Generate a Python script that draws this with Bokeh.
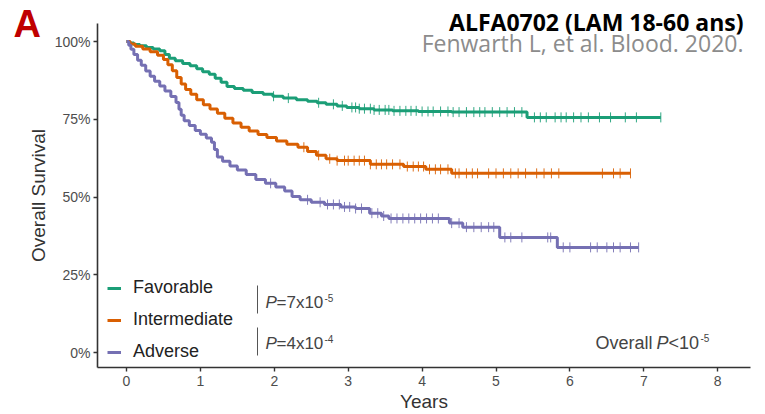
import numpy as np
from bokeh.plotting import figure
from bokeh.models import (Range1d, FixedTicker, Label, Legend, LegendItem, BoxAnnotation)
from bokeh.embed import file_html
from bokeh.resources import INLINE

# ---------------- data ----------------
groups = ["Favorable", "Intermediate", "Adverse"]
colors = ["#1B9E77", "#D95F02", "#7570B3"]

fav_t = [0, 0.04, 0.10, 0.18, 0.27, 0.36, 0.45, 0.52, 0.58, 0.66, 0.76, 0.86, 0.95, 1.03,
         1.12, 1.20, 1.28, 1.36, 1.46, 1.58, 1.70, 1.85, 1.98, 2.12, 2.30, 2.45, 2.58,
         2.70, 2.85, 2.98, 3.15, 3.35, 3.60, 3.95, 4.40, 5.42, 7.23]
fav_s = [100, 99.5, 99.0, 98.6, 98.1, 97.6, 97.0, 95.8, 94.6, 93.8, 92.9, 92.2, 91.2, 90.3,
         89.5, 88.2, 86.9, 85.5, 84.9, 84.3, 83.6, 83.0, 82.4, 81.8, 81.3, 80.8, 80.3,
         79.8, 79.3, 78.8, 78.4, 78.0, 77.7, 77.5, 77.3, 75.6, 75.6]
fav_cens = [1.99, 2.19, 2.6, 2.8, 2.92, 3.05, 3.1, 3.15, 3.22, 3.3, 3.35, 3.42, 3.5, 3.55,
            3.62, 3.7, 3.78, 3.85, 3.92, 4.0, 4.08, 4.15, 4.25, 4.35, 4.42, 4.5, 4.6, 4.7,
            4.78, 4.85, 4.95, 5.05, 5.15, 5.25, 5.35, 5.52, 5.6, 5.68, 5.8, 5.88, 5.95,
            6.05, 6.15, 6.25, 6.4, 6.55, 6.75, 6.9, 7.23]

int_t = [0, 0.05, 0.12, 0.22, 0.32, 0.42, 0.50, 0.56, 0.62, 0.68, 0.74, 0.80, 0.87, 0.95,
         1.04, 1.13, 1.23, 1.33, 1.44, 1.55, 1.66, 1.78, 1.90, 2.03, 2.17, 2.32, 2.45,
         2.57, 2.70, 2.85, 3.30, 3.75, 4.05, 4.40, 6.82]
int_s = [100, 99.2, 98.5, 97.6, 96.7, 95.6, 94.2, 92.5, 90.6, 88.4, 86.3, 84.6, 83.0, 81.3,
         79.7, 78.3, 76.9, 75.3, 73.8, 72.4, 71.2, 70.1, 69.1, 68.0, 67.0, 66.0, 64.6,
         63.4, 62.3, 61.7, 60.5, 59.8, 58.9, 57.6, 57.6]
int_cens = [2.4, 2.6, 2.75, 2.85, 2.95, 3.0, 3.08, 3.15, 3.22, 3.3, 3.38, 3.45, 3.52, 3.6,
            3.7, 3.8, 3.88, 3.95, 4.02, 4.1, 4.18, 4.25, 4.35, 4.45, 4.5, 4.6, 4.68, 4.75,
            4.9, 5.0, 5.1, 5.2, 5.3, 5.4, 5.55, 5.65, 5.75, 5.85, 6.44, 6.59, 6.68, 6.82]

adv_t = [0, 0.03, 0.06, 0.10, 0.15, 0.20, 0.26, 0.32, 0.38, 0.45, 0.52, 0.60, 0.67, 0.71,
         0.74, 0.78, 0.85, 0.93, 1.00, 1.08, 1.15, 1.19, 1.23, 1.30, 1.40, 1.50, 1.62,
         1.75, 1.88, 2.02, 2.14, 2.24, 2.35, 2.50, 2.68, 2.90, 3.10, 3.29, 3.45, 3.55,
         4.37, 4.55, 5.05, 5.83, 6.93]
adv_s = [100, 98.8, 97.5, 95.8, 94.0, 92.4, 90.5, 88.8, 87.2, 85.7, 84.1, 82.3, 80.4, 78.2,
         76.3, 74.5, 73.0, 71.4, 70.2, 69.0, 67.6, 65.3, 62.9, 61.5, 60.0, 58.7, 57.2,
         55.6, 54.4, 53.2, 51.9, 50.2, 49.1, 48.3, 47.6, 46.8, 46.3, 44.8, 43.9, 43.1,
         41.6, 40.3, 37.0, 33.8, 33.8]
adv_cens = [1.95, 2.45, 2.62, 2.72, 2.8, 2.88, 2.95, 3.02, 3.1, 3.18, 3.32, 3.4, 3.48, 3.58,
            3.66, 3.74, 3.82, 3.9, 3.98, 4.06, 4.14, 4.22, 4.4, 4.5, 4.6, 4.7, 4.8, 4.9,
            4.97, 5.12, 5.2, 5.35, 5.7, 5.74, 5.91, 6.0, 6.28, 6.37, 6.5, 6.59, 6.68,
            6.82, 6.93]

x_ticks = [0, 1, 2, 3, 4, 5, 6, 7, 8]
y_ticks = [0, 25, 50, 75, 100]
y_tick_labels = ["0%", "25%", "50%", "75%", "100%"]

FONT = "Liberation Sans"
TXT = "#444444"
W, H = 765, 414

# layout constants (pixels in page)
X0_PX, PX_PER_YEAR = 126, 73.9      # position of year 0, pixels per year
Y100_PX, PX_PER_PCT = 41, 3.11      # position of 100 %, pixels per percent
AXIS_X_PX, AXIS_Y_PX = 97, 367      # where the two axis lines sit
AXIS_RIGHT_PX, AXIS_TOP_PX = 750, 23

def X(px):
    return (px - X0_PX) / PX_PER_YEAR

def Y(py):
    return 100 - (py - Y100_PX) / PX_PER_PCT

# ---------------- figure ----------------
# the frame covers the whole page; both axes are pinned inside it
p = figure(width=W, height=H, output_backend="svg", toolbar_location=None,
           x_range=Range1d(X(0), X(W)), y_range=Range1d(Y(H), Y(0)),
           min_border_left=0, min_border_right=0, min_border_top=0, min_border_bottom=0)
p.outline_line_color = None
p.grid.visible = False
p.background_fill_color = "white"

series = [(fav_t, fav_s, fav_cens), (int_t, int_s, int_cens), (adv_t, adv_s, adv_cens)]
renderers = []
for (t, s, c), col in zip(series, colors):
    r = p.step(t, s, mode="after", line_color=col, line_width=3)
    renderers.append(r)
    t_arr = np.array(t)
    s_arr = np.array(s)
    idx = np.searchsorted(t_arr, np.array(c), side="right") - 1
    cy = s_arr[idx]
    p.scatter(c, cy, marker="dash", angle=np.pi / 2, size=10, line_color=col,
              line_width=1, line_alpha=0.9)

# axes
for ax in (p.xaxis[0], p.yaxis[0]):
    ax.axis_line_color = "#333333"
    ax.axis_line_width = 1.6
    ax.major_tick_line_color = "#333333"
    ax.major_tick_line_width = 1.4
    ax.major_tick_out = 4
    ax.major_tick_in = 0
    ax.minor_tick_line_color = None
    ax.major_label_text_font = FONT
    ax.major_label_text_font_size = "14px"
    ax.major_label_text_color = "#4D4D4D"
    ax.axis_label_text_font = FONT
    ax.axis_label_text_font_size = "19px"
    ax.axis_label_text_font_style = "normal"
    ax.axis_label_text_color = "#333333"

p.xaxis.ticker = FixedTicker(ticks=x_ticks)
p.yaxis.ticker = FixedTicker(ticks=y_ticks)
p.xaxis.bounds = (X(AXIS_X_PX), X(AXIS_RIGHT_PX))
p.yaxis.bounds = (Y(AXIS_Y_PX), Y(AXIS_TOP_PX))
p.yaxis.fixed_location = X(AXIS_X_PX)
p.xaxis.fixed_location = Y(AXIS_Y_PX)
p.yaxis.major_label_overrides = {v: l for v, l in zip(y_ticks, y_tick_labels)}
p.xaxis.axis_label = "Years"
p.yaxis.axis_label = "Overall Survival"
p.xaxis.major_label_standoff = 4
p.xaxis.axis_label_standoff = 2
p.yaxis.major_label_standoff = 3
p.yaxis.axis_label_standoff = 3

# legend
legend = Legend(items=[LegendItem(label=g, renderers=[r]) for g, r in zip(groups, renderers)],
                location=(107, H - AXIS_Y_PX + 5), orientation="vertical",
                label_text_font=FONT, label_text_font_size="18px", label_text_color="#222222",
                glyph_width=14, glyph_height=20, label_height=20, spacing=11,
                padding=0, margin=0, label_standoff=12,
                background_fill_alpha=0, border_line_alpha=0)
p.add_layout(legend)

# P-value annotations
p.add_layout(BoxAnnotation(left=X(256.5), right=X(257.5), top=Y(285), bottom=Y(313),
                           fill_color="#555555", fill_alpha=1, line_color=None, level="overlay"))
p.add_layout(BoxAnnotation(left=X(256.5), right=X(257.5), top=Y(327), bottom=Y(355),
                           fill_color="#555555", fill_alpha=1, line_color=None, level="overlay"))

def txt(x0, base, s, italic=False, size="17px"):
    p.add_layout(Label(x=X(x0), y=Y(base), text=s, text_font=FONT, text_font_size=size,
                       text_font_style="italic" if italic else "normal",
                       text_color=TXT, text_baseline="alphabetic"))

txt(265, 302, "P", italic=True)
txt(276, 302, "=7x10")
txt(324, 297, "-5", size="10px")
txt(265, 343, "P", italic=True)
txt(276, 343, "=4x10")
txt(324, 338, "-4", size="10px")

txt(595, 342, "Overall", size="18px")
txt(656, 342, "P", italic=True, size="18px")
txt(668, 342, "<10", size="18px")
txt(700, 337, "-5", size="10px")

# panel letter and headings
p.add_layout(Label(x=X(13), y=Y(23), text="A", text_font=FONT, text_font_size="38px",
                   text_font_style="bold", text_color="#C00000", text_baseline="alphabetic"))
p.add_layout(Label(x=X(743), y=Y(21), text="ALFA0702 (LAM 18-60 ans)", text_font="Open Sans",
                   text_font_size="23px", text_font_style="bold", text_color="#000000",
                   text_align="right", text_baseline="alphabetic"))
p.add_layout(Label(x=X(743), y=Y(42), text="Fenwarth L, et al. Blood. 2020.", text_font="Open Sans",
                   text_font_size="23px", text_color="#8C8C8C",
                   text_align="right", text_baseline="alphabetic"))

open("out.html", "w").write(file_html(p, INLINE))
